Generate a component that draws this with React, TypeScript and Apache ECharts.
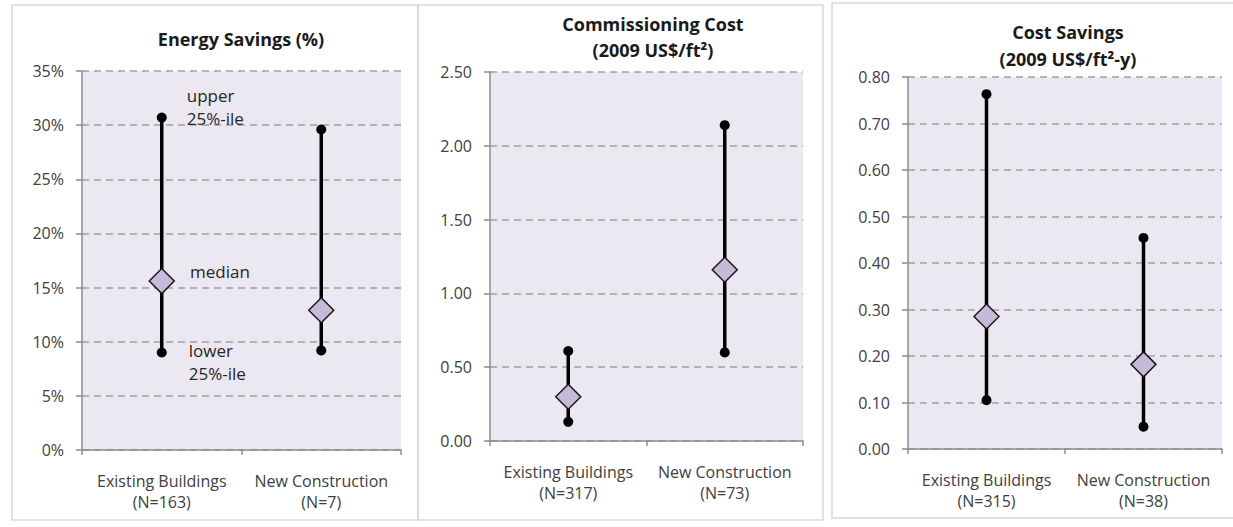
import React, { useEffect, useRef } from "react";
import * as echarts from "echarts";

// Building types shown on every panel
const categories = ["Existing Buildings", "New Construction"];

// Energy savings (%): lower quartile, median, upper quartile
const energyN = [163, 7];
const energyLower = [9.0, 9.2];
const energyMedian = [15.6, 12.9];
const energyUpper = [30.7, 29.6];
const energyAxis = [0, 35, 5];

// Commissioning cost (2009 US$/ft²)
const costN = [317, 73];
const costLower = [0.13, 0.6];
const costMedian = [0.3, 1.16];
const costUpper = [0.61, 2.14];
const costAxis = [0, 2.5, 0.5];

// Cost savings (2009 US$/ft²-y)
const savingsN = [315, 38];
const savingsLower = [0.105, 0.048];
const savingsMedian = [0.285, 0.182];
const savingsUpper = [0.763, 0.454];
const savingsAxis = [0, 0.8, 0.1];

// Annotation texts for the first distribution
const annotationUpper = "upper\n25%-ile";
const annotationMedian = "median";
const annotationLower = "lower\n25%-ile";

const FONT = "'Open Sans', Lato, sans-serif";

type Panel = {
  title: string;
  n: number[];
  lower: number[];
  median: number[];
  upper: number[];
  axis: number[];
  fmt: (v: number) => string;
};

const panels: Panel[] = [
  { title: "Energy Savings (%)", n: energyN, lower: energyLower, median: energyMedian, upper: energyUpper, axis: energyAxis, fmt: (v) => `${Math.round(v)}%` },
  { title: "Commissioning Cost\n(2009 US$/ft²)", n: costN, lower: costLower, median: costMedian, upper: costUpper, axis: costAxis, fmt: (v) => v.toFixed(2) },
  { title: "Cost Savings\n(2009 US$/ft²-y)", n: savingsN, lower: savingsLower, median: savingsMedian, upper: savingsUpper, axis: savingsAxis, fmt: (v) => v.toFixed(2) },
];

const gridBoxes = [
  { left: 82, top: 71, width: 319, height: 379 },
  { left: 490, top: 72, width: 313, height: 369 },
  { left: 908, top: 77, width: 314, height: 372 },
];

const titleBoxes = [
  { x: 241, y: 39, lh: 26 },
  { x: 653, y: 37, lh: 26 },
  { x: 1068, y: 45, lh: 27 },
];

const frames = [
  { x: 12, y: 5, width: 406, height: 515 },
  { x: 418, y: 5, width: 405, height: 515 },
  { x: 832, y: 3, width: 410, height: 515 },
];

const annotationLabel = (text: string, distance: number, dy: number) => ({
  show: true,
  position: "right",
  distance,
  offset: [0, dy],
  formatter: text,
  color: "#262626",
  fontFamily: FONT,
  fontSize: 17,
  lineHeight: 23,
  align: "left",
});

function buildOption() {
  const axisGray = "#8c8c8c";
  const grid: any[] = [];
  const xAxis: any[] = [];
  const yAxis: any[] = [];
  const series: any[] = [];
  const graphic: any[] = [];

  frames.forEach((f) => {
    graphic.push({
      type: "rect",
      shape: { x: f.x, y: f.y, width: f.width, height: f.height },
      style: { fill: "none", stroke: "#d9d9d9", lineWidth: 1.5 },
      silent: true,
      z: -10,
    });
  });

  panels.forEach((p, i) => {
    const t = titleBoxes[i];
    graphic.push({
      type: "text",
      x: t.x,
      y: t.y,
      style: {
        text: p.title,
        align: "center",
        verticalAlign: "middle",
        fill: "#1a1a1a",
        font: `bold 18px ${FONT}`,
        lineHeight: t.lh,
      },
      silent: true,
    });

    grid.push({
      ...gridBoxes[i],
      show: true,
      backgroundColor: "#ECE8F1",
      borderWidth: 0,
    });

    xAxis.push({
      type: "category",
      gridIndex: i,
      data: categories.map((c, k) => `${c}\n(N=${p.n[k]})`),
      boundaryGap: true,
      axisLine: { show: true, lineStyle: { color: axisGray, width: 1.5 } },
      axisTick: { show: true, length: 5, lineStyle: { color: axisGray, width: 1.5 } },
      axisLabel: {
        interval: 0,
        margin: 20,
        color: "#404040",
        fontFamily: FONT,
        fontSize: 16,
        lineHeight: 21,
      },
      splitLine: { show: false },
    });

    yAxis.push({
      type: "value",
      gridIndex: i,
      min: p.axis[0],
      max: p.axis[1],
      interval: p.axis[2],
      axisLine: { show: true, lineStyle: { color: axisGray, width: 1.5 } },
      axisTick: { show: true, length: 6, lineStyle: { color: axisGray, width: 1.5 } },
      axisLabel: {
        margin: 18,
        color: "#404040",
        fontFamily: FONT,
        fontSize: 16,
        formatter: (v: number) => p.fmt(v),
      },
      splitLine: {
        show: true,
        lineStyle: { color: "#9e9e9e", width: 1.5, type: [7, 5] },
      },
    });

    // whisker between the quartiles
    series.push({
      type: "custom",
      xAxisIndex: i,
      yAxisIndex: i,
      data: categories.map((_, k) => [k, p.lower[k], p.upper[k]]),
      encode: { x: 0, y: [1, 2] },
      renderItem: (_params: any, api: any) => {
        const lo = api.coord([api.value(0), api.value(1)]);
        const hi = api.coord([api.value(0), api.value(2)]);
        return {
          type: "line",
          shape: { x1: lo[0], y1: lo[1], x2: hi[0], y2: hi[1] },
          style: { stroke: "#000000", lineWidth: 3.5 },
        };
      },
      z: 2,
    });

    // quartile end points
    const ends: any[] = [];
    categories.forEach((_, k) => {
      const lowItem: any = { value: [k, p.lower[k]] };
      const highItem: any = { value: [k, p.upper[k]] };
      if (i === 0 && k === 0) {
        highItem.label = annotationLabel(annotationUpper, 20, -11);
        lowItem.label = annotationLabel(annotationLower, 22, 9);
      }
      ends.push(lowItem, highItem);
    });
    series.push({
      type: "scatter",
      xAxisIndex: i,
      yAxisIndex: i,
      symbol: "circle",
      symbolSize: 10,
      itemStyle: { color: "#000000", opacity: 1 },
      label: { show: false },
      data: ends,
      z: 3,
    });

    // medians
    series.push({
      type: "scatter",
      xAxisIndex: i,
      yAxisIndex: i,
      symbol: "diamond",
      symbolSize: [25, 25],
      itemStyle: { color: "#C6BADB", borderColor: "#1a1a1a", borderWidth: 1.5, opacity: 1 },
      label: { show: false },
      data: categories.map((_, k) => {
        const item: any = { value: [k, p.median[k]] };
        if (i === 0 && k === 0) item.label = annotationLabel(annotationMedian, 15, -10);
        return item;
      }),
      z: 4,
    });
  });

  return {
    animation: false,
    backgroundColor: "#ffffff",
    textStyle: { fontFamily: FONT },
    grid,
    xAxis,
    yAxis,
    series,
    graphic,
  };
}

export default function App() {
  const ref = useRef<HTMLDivElement>(null);

  useEffect(() => {
    if (!ref.current) return;
    const chart = echarts.init(ref.current, undefined, { renderer: "svg" });
    chart.setOption(buildOption() as any);
    return () => chart.dispose();
  }, []);

  return (
    <div
      ref={ref}
      style={{ position: "fixed", left: 0, top: 0, width: 1233, height: 527, background: "#fff" }}
    />
  );
}
